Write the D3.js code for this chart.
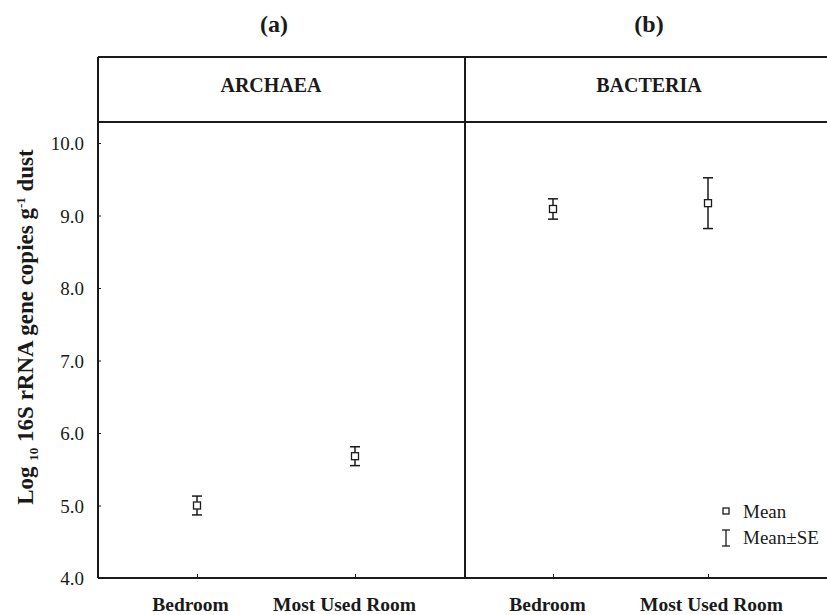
<!DOCTYPE html>
<html><head><meta charset="utf-8">
<script src="https://cdn.jsdelivr.net/npm/d3@7"></script>
<style>
body{margin:0;background:#fff;}
svg{display:block;font-family:"Liberation Serif","Times New Roman",serif;}
</style></head>
<body><svg id="c" width="827" height="615"></svg>
<script>
const panels = ["ARCHAEA", "BACTERIA"];
const panelTags = ["(a)", "(b)"];
const rooms = ["Bedroom", "Most Used Room"];
const archaeaMean = [5.0, 5.68];
const archaeaSE = [0.13, 0.13];
const bacteriaMean = [9.09, 9.17];
const bacteriaSE = [0.14, 0.35];
const yTicks = [4, 5, 6, 7, 8, 9, 10];

const means = [archaeaMean, bacteriaMean];
const ses = [archaeaSE, bacteriaSE];

const svg = d3.select("#c");
const W = 827;
const left = 98, divX = 465, topY = 57, stripY = 122, bottomY = 578;
const ink = "#1a1a1a";

const y = d3.scaleLinear().domain([4, 10.3]).range([bottomY, bottomY - 6.3 * 72.5]);
const panelRanges = [[left, divX], [divX, W]];
const pointRanges = [[197, 355], [553, 708]];
const labelShift = [[-7, -11], [-6, 3]];
const xs = pointRanges.map(r => d3.scalePoint().domain(rooms).range(r));

// frame lines
const g = svg.append("g").attr("stroke", ink).attr("stroke-width", 2).attr("fill", "none");
g.append("line").attr("x1", left).attr("x2", W).attr("y1", topY).attr("y2", topY);
g.append("line").attr("x1", left).attr("x2", W).attr("y1", stripY).attr("y2", stripY);
g.append("line").attr("x1", divX).attr("x2", divX).attr("y1", topY).attr("y2", bottomY);

// y axis
const ya = svg.append("g").attr("transform", `translate(${left},0)`)
  .call(d3.axisLeft(y).tickValues(yTicks).tickFormat(d3.format(".1f")).tickSizeInner(-3).tickSizeOuter(0).tickPadding(14));
ya.select(".domain").attr("d", `M0,${topY}V${bottomY}`).attr("stroke", ink).attr("stroke-width", 2);
ya.selectAll(".tick line").attr("stroke", ink).attr("stroke-width", 1);
ya.selectAll(".tick text").attr("font-size", 19).attr("fill", ink).attr("font-family", "Liberation Serif").attr("dy", "0.36em");

// bottom axes per panel
panels.forEach((p, i) => {
  const xa = svg.append("g").attr("transform", `translate(0,${bottomY})`)
    .call(d3.axisBottom(xs[i]).tickSizeInner(-4).tickSizeOuter(0).tickPadding(0));
  xa.select(".domain").attr("d", `M${panelRanges[i][0]},0H${panelRanges[i][1]}`).attr("stroke", ink).attr("stroke-width", 2);
  xa.selectAll(".tick line").attr("stroke", ink).attr("stroke-width", 1);
  xa.selectAll(".tick text").attr("font-size", 19.5).attr("font-weight", "bold").attr("fill", ink)
    .attr("font-family", "Liberation Serif").attr("y", 33).attr("dy", 0)
    .attr("dx", (d, j) => labelShift[i][j]);

  svg.append("text").attr("x", i === 0 ? 274 : 649).attr("y", 32)
    .attr("text-anchor", "middle").attr("font-size", 24).attr("font-weight", "bold").attr("fill", ink).text(panelTags[i]);
  svg.append("text").attr("x", i === 0 ? 271 : 649).attr("y", 92)
    .attr("text-anchor", "middle").attr("font-size", 20).attr("font-weight", "bold").attr("fill", ink).text(p);

  // error bars
  const eg = svg.append("g").attr("stroke", ink).attr("stroke-width", 1.5);
  rooms.forEach((r, j) => {
    const x = xs[i](r), m = means[i][j], s = ses[i][j];
    eg.append("line").attr("x1", x).attr("x2", x).attr("y1", y(m + s)).attr("y2", y(m - s));
    eg.append("line").attr("x1", x - 5).attr("x2", x + 5).attr("y1", y(m + s)).attr("y2", y(m + s));
    eg.append("line").attr("x1", x - 5).attr("x2", x + 5).attr("y1", y(m - s)).attr("y2", y(m - s));
    eg.append("rect").attr("x", x - 3.5).attr("y", y(m) - 3.5).attr("width", 7).attr("height", 7)
      .attr("fill", "#fff").attr("stroke-width", 1.3);
  });
});

// legend
const lg = svg.append("g").attr("stroke", ink).attr("stroke-width", 1.3);
lg.append("rect").attr("x", 723).attr("y", 508).attr("width", 6).attr("height", 6).attr("fill", "#fff");
lg.append("line").attr("x1", 726).attr("x2", 726).attr("y1", 530).attr("y2", 546);
lg.append("line").attr("x1", 722).attr("x2", 730).attr("y1", 530).attr("y2", 530);
lg.append("line").attr("x1", 722).attr("x2", 730).attr("y1", 546).attr("y2", 546);
svg.append("text").attr("x", 743).attr("y", 518).attr("font-size", 19).attr("fill", ink).text("Mean");
svg.append("text").attr("x", 743).attr("y", 544).attr("font-size", 19).attr("fill", ink).text("Mean±SE");

// y title
const yt = svg.append("text").attr("transform", "translate(33,327) rotate(-90)")
  .attr("text-anchor", "middle").attr("font-size", 23).attr("font-weight", "bold").attr("fill", ink);
yt.append("tspan").text("Log ");
yt.append("tspan").attr("font-size", 13).attr("dy", 5).text("10");
yt.append("tspan").attr("dy", -5).text(" 16S rRNA gene copies g");
yt.append("tspan").attr("font-size", 13).attr("dy", -8).text("-1");
yt.append("tspan").attr("dy", 8).text(" dust");
</script></body></html>
